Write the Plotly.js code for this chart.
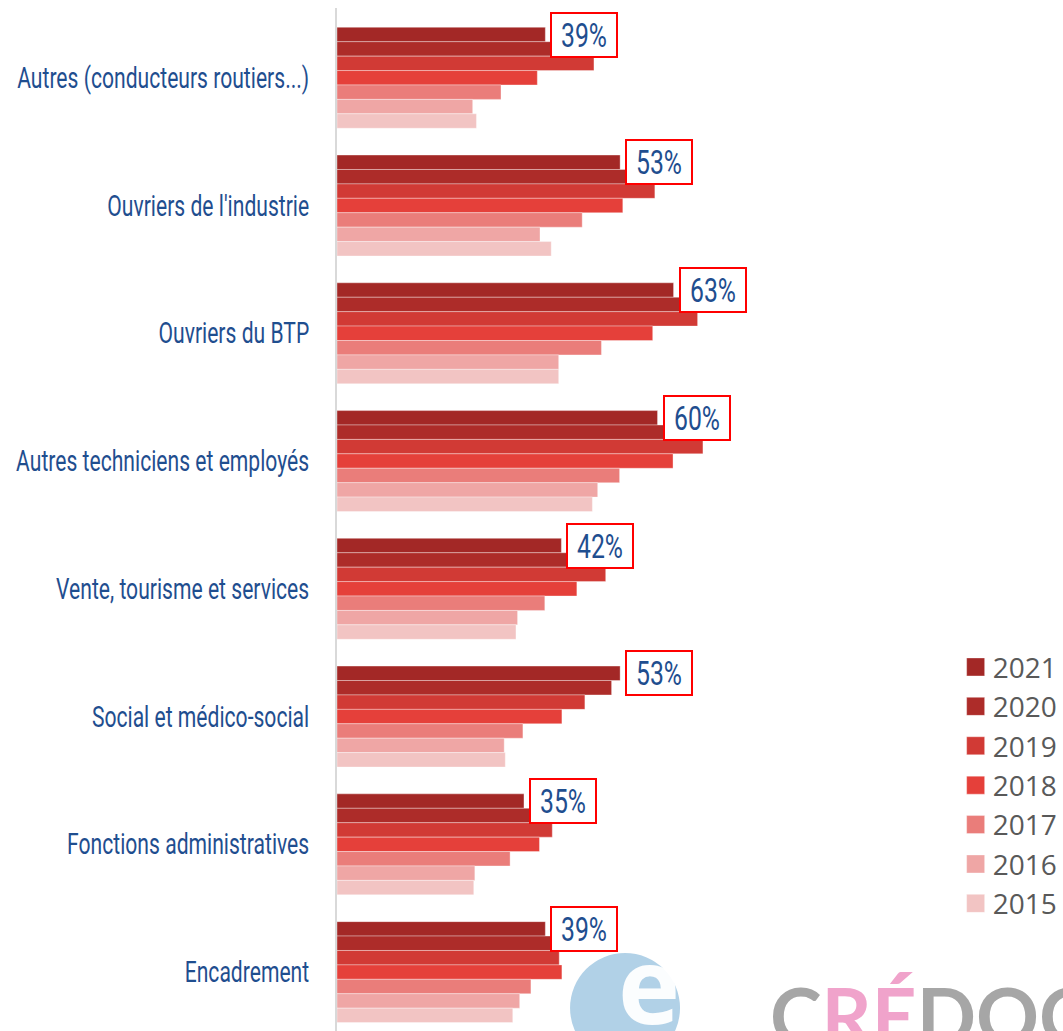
<!DOCTYPE html>
<html>
<head>
<meta charset="utf-8">
<script src="https://cdn.plot.ly/plotly-3.0.1.min.js"></script>
<style>html,body{margin:0;padding:0;background:#fff;}#chart{width:1063px;height:1031px;}</style>
</head>
<body>
<div id="chart"></div>
<script>
// Categories, top to bottom
var categories = [
  "Autres (conducteurs routiers...)",
  "Ouvriers de l'industrie",
  "Ouvriers du BTP",
  "Autres techniciens et employés",
  "Vente, tourisme et services",
  "Social et médico-social",
  "Fonctions administratives",
  "Encadrement"
];
var years = ["2021", "2020", "2019", "2018", "2017", "2016", "2015"];
var v2021 = [39, 53, 63, 60, 42, 53, 35, 39];
var v2020 = [41, 55, 65, 62, 44, 51.4, 37, 41];
var v2019 = [48.1, 59.5, 67.5, 68.5, 50.3, 46.4, 40.3, 41.6];
var v2018 = [37.5, 53.5, 59.1, 62.9, 44.9, 42.1, 37.9, 42.1];
var v2017 = [30.7, 45.9, 49.5, 52.9, 38.9, 34.8, 32.4, 36.3];
var v2016 = [25.4, 38.0, 41.5, 48.8, 33.8, 31.3, 25.8, 34.2];
var v2015 = [26.1, 40.1, 41.5, 47.8, 33.5, 31.5, 25.6, 32.9];
var seriesValues = [v2021, v2020, v2019, v2018, v2017, v2016, v2015];
var labels2021 = ["39%", "53%", "63%", "60%", "42%", "53%", "35%", "39%"];
var colors = ["#A32826", "#AD2C29", "#D13A35", "#E5403A", "#EA7D7A", "#EFA6A5", "#F2C4C3"];

var bargap = 0.21;
var traces = years.map(function (yr, i) {
  return {
    type: "bar",
    orientation: "h",
    name: yr,
    x: seriesValues[i],
    y: categories,
    marker: { color: colors[i], line: { color: "rgba(255,255,255,0.35)", width: 1 } },
    hoverinfo: "x+name"
  };
});

var labelFont = "Roboto, DejaVu Sans, sans-serif";
var blue = "#1F4E8F";

// label boxes on the 2021 bars
var nSeries = years.length;
var groupW = 1 - bargap;
var off2021 = -groupW / 2 + groupW / nSeries / 2;
var annotations = categories.map(function (c, i) {
  return {
    x: v2021[i], y: i + off2021, xref: "x", yref: "y",
    text: labels2021[i], showarrow: false,
    xanchor: "left", yanchor: "middle", xshift: 5,
    font: { family: labelFont, size: 34, color: blue },
    bgcolor: "#FFFFFF", bordercolor: "#FF0000", borderwidth: 2, borderpad: 2,
    width: 60, height: 38
  };
});

// logo watermark (decorative)
annotations.push({
  xref: "paper", yref: "paper", x: 0.594, y: -0.032, xanchor: "left", yanchor: "bottom",
  showarrow: false,
  text: "C<span style='color:#F0A3CB'>RÉ</span>DOC",
  font: { family: "Lato, Open Sans, sans-serif", size: 78, color: "#A6A6A6", weight: 700 }
});
annotations.push({
  xref: "paper", yref: "paper", x: 0.430, y: 0.117, xanchor: "center", yanchor: "top",
  showarrow: false, text: "e", borderpad: 0,
  font: { family: "Open Sans, sans-serif", size: 105, color: "rgba(255,255,255,0.95)", weight: 700 }
});

var layout = {
  width: 1063, height: 1031,
  margin: { l: 337, r: 0, t: 8, b: 0 },
  paper_bgcolor: "#FFFFFF", plot_bgcolor: "rgba(0,0,0,0)",
  barmode: "group", bargap: bargap, bargroupgap: 0,
  xaxis: { range: [0, 135.9], visible: false, showgrid: false, zeroline: false, fixedrange: true },
  yaxis: {
    type: "category", range: [7.461, -0.546], autorange: false,
    showline: true, linecolor: "#D9D9D9", linewidth: 2,
    ticks: "", ticklabelstandoff: 20, showgrid: false, zeroline: false,
    tickfont: { family: labelFont, size: 29, color: blue }
  },
  showlegend: true,
  legend: {
    x: 0.848, y: 0.380, xanchor: "left", yanchor: "top",
    font: { family: "Open Sans, sans-serif", size: 28, color: "#595959" },
    bgcolor: "rgba(0,0,0,0)", traceorder: "normal"
  },
  shapes: [{
    type: "circle", xref: "paper", yref: "paper", layer: "below",
    x0: 0.321, x1: 0.4725, y0: -0.0313, y1: 0.0763,
    fillcolor: "rgba(125,178,215,0.6)", line: { width: 0 }
  }],
  annotations: annotations
};

function condense(nodes, targetFirst) {
  if (!nodes.length) return;
  var factor = targetFirst / nodes[0].getComputedTextLength();
  nodes.forEach(function (t) {
    var L = t.getComputedTextLength();
    t.setAttribute("textLength", (L * factor).toFixed(1));
    t.setAttribute("lengthAdjust", "spacingAndGlyphs");
  });
}

Plotly.newPlot("chart", traces, layout, { displayModeBar: false, staticPlot: true }).then(function (gd) {
  // narrow lettering like the original condensed typeface
  var ticks = Array.prototype.slice.call(gd.querySelectorAll(".yaxislayer-above .ytick text"));
  var first = ticks.filter(function (t) { return t.textContent === categories[0]; });
  if (first.length) {
    var f = 292 / first[0].getComputedTextLength();
    ticks.forEach(function (t) {
      t.setAttribute("textLength", (t.getComputedTextLength() * f).toFixed(1));
      t.setAttribute("lengthAdjust", "spacingAndGlyphs");
    });
  }
  var annTexts = [];
  for (var i = 0; i < categories.length; i++) {
    var t = gd.querySelector('.annotation[data-index="' + i + '"] text.annotation-text');
    if (t) annTexts.push(t);
  }
  condense(annTexts, 46);
  // larger legend swatches
  gd.querySelectorAll(".legend .legendpoints path").forEach(function (p) {
    p.setAttribute("d", "M12,9H-6V-9H12Z");
  });
});
</script>
</body>
</html>
